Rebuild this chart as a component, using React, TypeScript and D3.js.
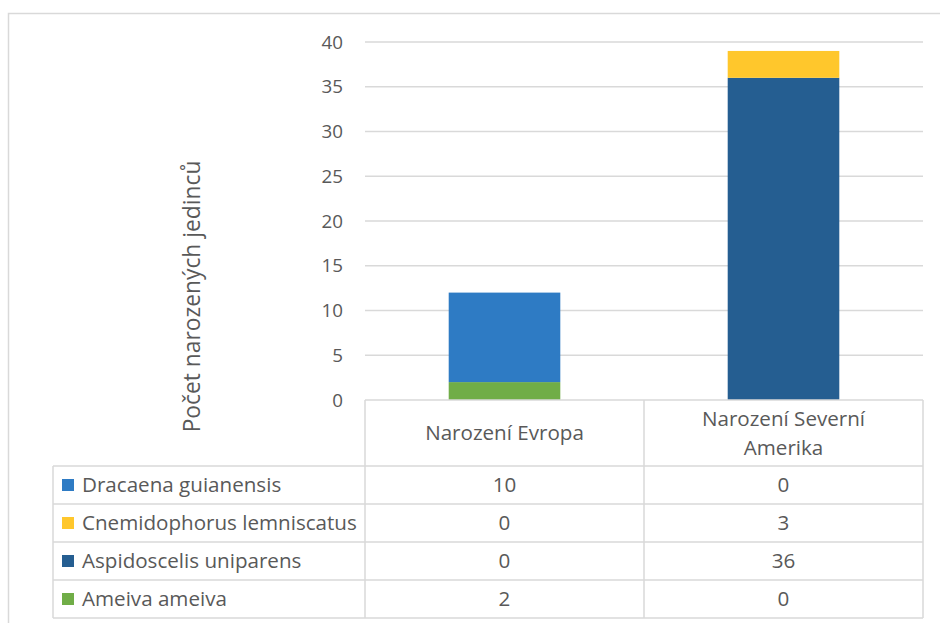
import React from "react";
import * as d3 from "d3";

const categories = ["Narození Evropa", "Narození Severní Amerika"];
const categoryLines = [["Narození Evropa"], ["Narození Severní", "Amerika"]];
const seriesNames = ["Ameiva ameiva", "Aspidoscelis uniparens", "Cnemidophorus lemniscatus", "Dracaena guianensis"];
const ameiva = [2, 0];
const aspidoscelis = [0, 36];
const cnemidophorus = [0, 3];
const dracaena = [10, 0];
const seriesColors = ["#70AD47", "#255E91", "#FFC72C", "#2E7BC4"];
const yTicks = [0, 5, 10, 15, 20, 25, 30, 35, 40];
const yTitle = "Počet narozených jedinců";

const W = 940;
const H = 623;
const FONT = "'Open Sans', Lato, sans-serif";
const TXT = "#595959";
const GRID = "#d9d9d9";

export default function App() {
  const values = [ameiva, aspidoscelis, cnemidophorus, dracaena];
  const rows = categories.map((c, i) => {
    const r: any = { cat: c };
    seriesNames.forEach((s, j) => (r[s] = values[j][i]));
    return r;
  });
  const stack = d3.stack<any>().keys(seriesNames)(rows);

  const plotL = 365, plotR = 923, plotT = 42, plotB = 400;
  const x = d3.scaleBand<string>().domain(categories).range([plotL, plotR]).padding(0);
  const y = d3.scaleLinear().domain([0, 40]).range([plotB, plotT]);
  const barW = x.bandwidth() * 0.4;

  const tableL = 53;
  const headerB = 466;
  const rowH = 38;
  const tableRows = [...seriesNames].reverse();
  const rowY = d3.scaleBand<string>().domain(tableRows).range([headerB, headerB + rowH * tableRows.length]).padding(0);
  const fs = 20.6;
  const tickFs = 18.8;
  const titleFs = 22.8;

  return (
    <svg width={W} height={H} style={{ position: "absolute", left: 0, top: 0 }} fontFamily={FONT}>
      <rect x={8.5} y={13.5} width={W} height={H} fill="#fff" stroke={GRID} strokeWidth={1.5} />
      {yTicks.map((t) => (
        <g key={t}>
          {t > 0 && <line x1={plotL} x2={plotR} y1={y(t)} y2={y(t)} stroke={GRID} strokeWidth={1.5} />}
          <text x={343} y={y(t)} dy="0.35em" textAnchor="end" fontSize={tickFs} fill={TXT}>{t}</text>
        </g>
      ))}
      <text transform={`translate(199.5,296.5) rotate(-90)`} textAnchor="middle" fontSize={titleFs} fill={TXT}>{yTitle}</text>
      {stack.map((s, j) => (
        <g key={s.key}>
          {s.map((d, i) => (
            d[1] - d[0] > 0 ? (
              <rect key={i} x={(x(categories[i]) as number) + (x.bandwidth() - barW) / 2} y={y(d[1])}
                width={barW} height={y(d[0]) - y(d[1])} fill={seriesColors[j]} />
            ) : null
          ))}
        </g>
      ))}
      {/* data table */}
      <g stroke={GRID} strokeWidth={1.5} fill="none">
        <line x1={plotL} x2={plotR} y1={plotB} y2={plotB} />
        <line x1={plotL} x2={plotL} y1={plotB} y2={headerB} />
        {categories.map((c) => (
          <line key={c} x1={(x(c) as number) + x.bandwidth()} x2={(x(c) as number) + x.bandwidth()} y1={plotB} y2={headerB + rowH * tableRows.length} />
        ))}
        <line x1={tableL} x2={tableL} y1={headerB} y2={headerB + rowH * tableRows.length} />
        <line x1={plotL} x2={plotL} y1={headerB} y2={headerB + rowH * tableRows.length} />
        {[...tableRows, "end"].map((r, k) => (
          <line key={r} x1={tableL} x2={plotR} y1={headerB + rowH * k} y2={headerB + rowH * k} />
        ))}
      </g>
      {categoryLines.map((lines, i) => {
        const cx = (x(categories[i]) as number) + x.bandwidth() / 2;
        const cy = (plotB + headerB) / 2;
        const lh = 29;
        return (
          <text key={i} textAnchor="middle" fontSize={fs} fill={TXT}>
            {lines.map((l, k) => (
              <tspan key={k} x={cx} y={cy + (k - (lines.length - 1) / 2) * lh} dy="0.35em">{l}</tspan>
            ))}
          </text>
        );
      })}
      {tableRows.map((name) => {
        const j = seriesNames.indexOf(name);
        const cy = (rowY(name) as number) + rowY.bandwidth() / 2;
        return (
          <g key={name}>
            <rect x={62} y={cy - 6} width={12} height={12} fill={seriesColors[j]} />
            <text x={82} y={cy} dy="0.35em" fontSize={fs} fill={TXT}>{name}</text>
            {categories.map((c, i) => (
              <text key={c} x={(x(c) as number) + x.bandwidth() / 2} y={cy} dy="0.35em" textAnchor="middle" fontSize={fs} fill={TXT}>
                {values[j][i]}
              </text>
            ))}
          </g>
        );
      })}
    </svg>
  );
}
